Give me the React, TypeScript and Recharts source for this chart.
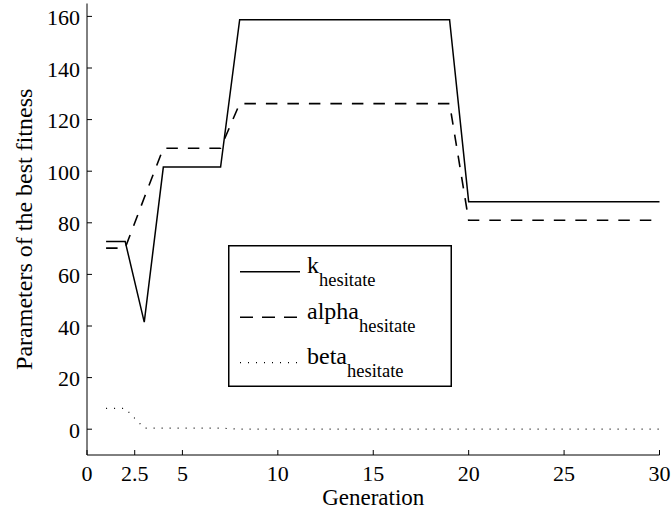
import { Legend, Line, LineChart, XAxis, YAxis } from "recharts";

const GENERATIONS = [
  1, 2, 3, 4, 5, 6, 7, 8, 9, 10, 11, 12, 13, 14, 15, 16, 17, 18, 19, 20, 21, 22, 23, 24, 25, 26, 27, 28,
  29, 30,
];
const K_HESITATE = [
  72.8, 72.8, 41.5, 101.6, 101.6, 101.6, 101.6, 158.7, 158.7, 158.7, 158.7, 158.7, 158.7, 158.7, 158.7,
  158.7, 158.7, 158.7, 158.7, 88.2, 88.2, 88.2, 88.2, 88.2, 88.2, 88.2, 88.2, 88.2, 88.2, 88.2,
];
const ALPHA_HESITATE = [
  70.2, 70.2, 89.7, 108.9, 108.9, 108.9, 108.9, 126.2, 126.2, 126.2, 126.2, 126.2, 126.2, 126.2, 126.2,
  126.2, 126.2, 126.2, 126.2, 81.0, 81.0, 81.0, 81.0, 81.0, 81.0, 81.0, 81.0, 81.0, 81.0, 81.0,
];
const BETA_HESITATE = [
  8.1, 8.1, 0.4, 0.4, 0.4, 0.4, 0.4, 0, 0, 0, 0, 0, 0, 0, 0, 0, 0, 0, 0, 0, 0, 0, 0, 0, 0, 0, 0, 0, 0, 0,
];

const X_TICKS = [0, 2.5, 5, 10, 15, 20, 25, 30];
const Y_TICKS = [0, 20, 40, 60, 80, 100, 120, 140, 160];

const FONT = "'Liberation Serif', 'Times New Roman', Times, 'DejaVu Serif', serif";
const txt = (size: number) => ({ fontFamily: FONT, fontSize: size });

const SERIES = [
  { key: "k", label: "k", dash: undefined, width: 1.5 },
  { key: "alpha", label: "alpha", dash: "11.5 10", width: 1.6 },
  { key: "beta", label: "beta", dash: "1 7", width: 1.2 },
];

const data = GENERATIONS.map((gen, i) => ({
  gen,
  k: K_HESITATE[i],
  alpha: ALPHA_HESITATE[i],
  beta: BETA_HESITATE[i],
}));

function XTick({ x, y, payload }: any) {
  return (
    <g>
      <line x1={x} y1={y} x2={x} y2={y - 5} stroke="#000" strokeWidth={1} />
      <text x={x} y={y + 26} textAnchor="middle" style={txt(22)} fill="#000">
        {payload.value}
      </text>
    </g>
  );
}

function YTick({ x, y, payload }: any) {
  return (
    <g>
      <line x1={x} y1={y} x2={x + 5} y2={y} stroke="#000" strokeWidth={1} />
      <text x={x - 7} y={y + 8.5} textAnchor="end" style={txt(22)} fill="#000">
        {payload.value}
      </text>
    </g>
  );
}

const ROW_Y = [26.7, 72.3, 117.7];

function LegendBox() {
  return (
    <svg width={224} height={142} style={{ display: "block" }}>
      <rect x={0.75} y={0.75} width={222.5} height={140.5} fill="#fff" stroke="#000" strokeWidth={1.5} />
      {SERIES.map((s, i) => (
        <g key={s.key}>
          <line
            x1={12}
            y1={ROW_Y[i]}
            x2={72}
            y2={ROW_Y[i]}
            stroke="#000"
            strokeWidth={s.width}
            strokeDasharray={s.key === "alpha" ? "13 9" : s.dash}
          />
          <text x={79} y={ROW_Y[i] + 1.5} style={txt(24)} fill="#000">
            {s.label}
            <tspan dy={13} style={txt(18.5)}>
              hesitate
            </tspan>
          </text>
        </g>
      ))}
    </svg>
  );
}

export default function App() {
  return (
    <div
      style={{ position: "absolute", left: 0, top: 0, width: 672, height: 510, background: "#fff", fontFamily: FONT }}
    >
      <LineChart width={672} height={510} data={data} margin={{ top: 3.5, right: 12.5, bottom: 0, left: 0 }}>
        <XAxis
          dataKey="gen"
          type="number"
          domain={[0, 30]}
          ticks={X_TICKS}
          interval={0}
          height={55}
          tickSize={0}
          tickMargin={0}
          tickLine={false}
          axisLine={{ stroke: "#000", strokeWidth: 1 }}
          tick={<XTick />}
          label={{
            content: ({ viewBox }: any) => (
              <text x={viewBox.x + viewBox.width / 2} y={viewBox.y + 50} textAnchor="middle" style={txt(23)} fill="#000">
                Generation
              </text>
            ),
          }}
        />
        <YAxis
          type="number"
          domain={[-10, 165]}
          ticks={Y_TICKS}
          interval={0}
          width={87}
          tickSize={0}
          tickMargin={0}
          tickLine={false}
          axisLine={{ stroke: "#000", strokeWidth: 1 }}
          tick={<YTick />}
          label={{
            content: ({ viewBox }: any) => {
              const cy = viewBox.y + viewBox.height / 2;
              return (
                <text
                  x={32}
                  y={cy}
                  transform={`rotate(-90 32 ${cy})`}
                  textAnchor="middle"
                  style={txt(24)}
                  fill="#000"
                >
                  Parameters of the best fitness
                </text>
              );
            },
          }}
        />
        <Legend
          layout="vertical"
          align="center"
          verticalAlign="middle"
          content={<LegendBox />}
          wrapperStyle={{ left: 228, top: 245, width: 224, height: 142 }}
        />
        {SERIES.map((s) => (
          <Line
            key={s.key}
            dataKey={s.key}
            type="linear"
            stroke="#000"
            strokeWidth={s.width}
            strokeDasharray={s.dash}
            dot={false}
            activeDot={false}
            isAnimationActive={false}
          />
        ))}
      </LineChart>
    </div>
  );
}
